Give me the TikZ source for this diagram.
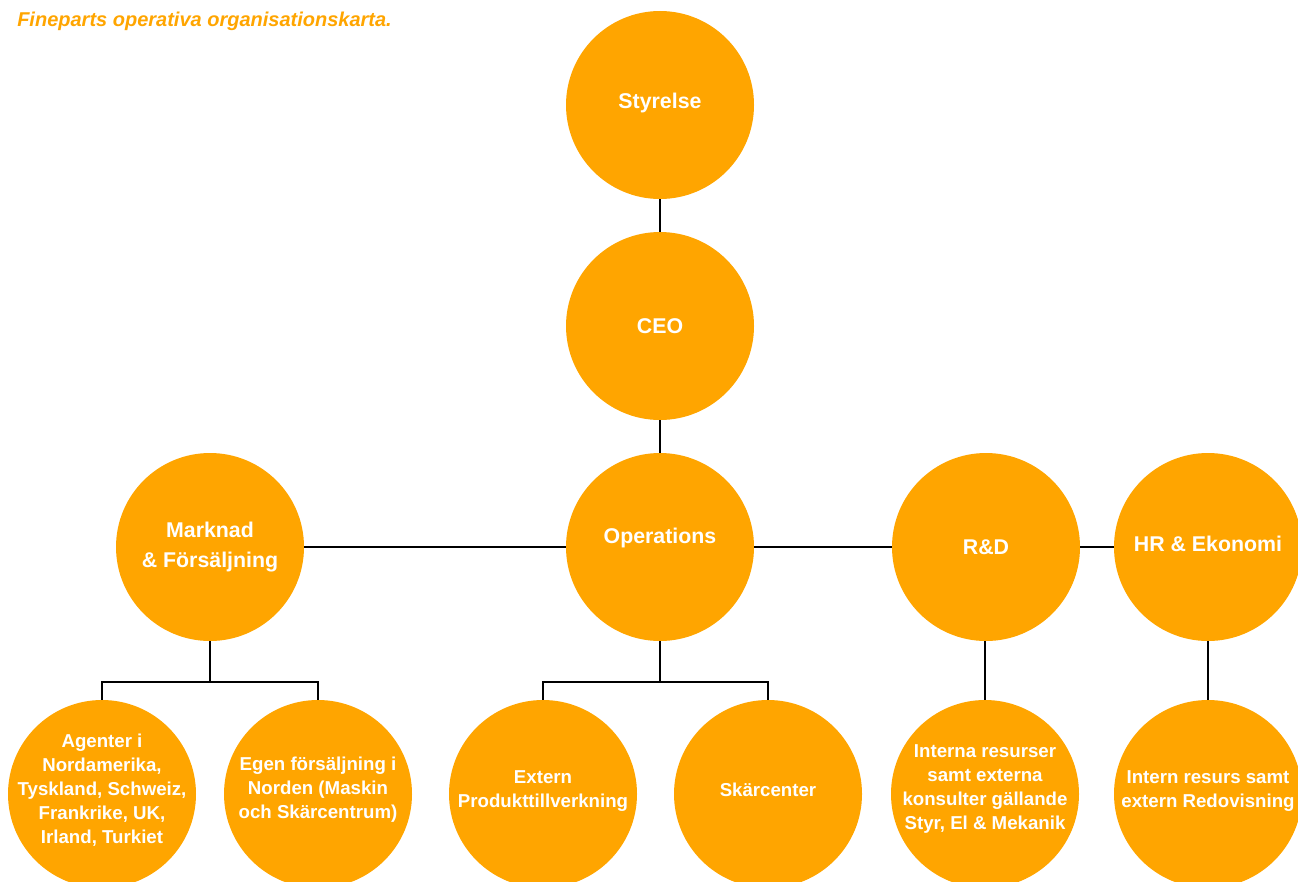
\documentclass[tikz,border=0pt]{standalone}
\usepackage{fontspec}
\setmainfont{Liberation Sans}
\definecolor{orgorange}{HTML}{FFA500}
\begin{document}
\begin{tikzpicture}[x=0.75pt,y=-0.75pt,
  orgc/.style={circle, fill=orgorange, draw=none, minimum size=141pt, inner sep=0pt},
  toplbl/.style={text=white, font=\bfseries\fontsize{16}{23}\selectfont, align=center, inner sep=0pt},
  botlbl/.style={text=white, font=\bfseries\fontsize{14}{18}\selectfont, align=center, inner sep=0pt},
  conn/.style={draw=black, line width=2.2pt}]
\useasboundingbox (0,0) rectangle (1298,881);
\clip (0,0) rectangle (1298,881);
\node[anchor=west, text=orgorange, font=\bfseries\itshape\fontsize{15}{18}\selectfont, inner sep=0pt] (title) at (17,21) {Fineparts operativa organisationskarta.};
% top level circles
\node[orgc, label={[toplbl, yshift=1.5pt]center:Styrelse}] (sty) at (660,105) {};
\node[orgc, label={[toplbl]center:CEO}] (ceo) at (660,326) {};
\node[orgc, label={[toplbl, yshift=6.5pt]center:Operations}] (ops) at (660,547) {};
\node[orgc, label={[toplbl]center:Marknad\\\& Försäljning}] (mark) at (210,547) {};
\node[orgc, label={[toplbl]center:R\&D}] (rd) at (986,547) {};
\node[orgc, label={[toplbl, yshift=2pt]center:HR \& Ekonomi}] (hr) at (1208,547) {};
% bottom circles
\node[orgc, label={[botlbl, yshift=3pt]center:Agenter i\\Nordamerika,\\Tyskland, Schweiz,\\Frankrike, UK,\\Irland, Turkiet}] (agent) at (102,794) {};
\node[orgc, label={[botlbl, yshift=3pt]center:Egen försäljning i\\Norden (Maskin\\och Skärcentrum)}] (egen) at (318,794) {};
\node[orgc, label={[botlbl, yshift=2.5pt]center:Extern\\Produkttillverkning}] (ext) at (543,794) {};
\node[orgc, label={[botlbl, yshift=3pt]center:Skärcenter}] (skar) at (768,794) {};
\node[orgc, label={[botlbl, yshift=4pt]center:Interna resurser\\samt externa\\konsulter gällande\\Styr, El \& Mekanik}] (intr) at (985,794) {};
\node[orgc, label={[botlbl, yshift=2.5pt]center:Intern resurs samt\\extern Redovisning}] (ires) at (1208,794) {};
% connectors
\draw[conn] (sty) -- (ceo);
\draw[conn] (ceo) -- (ops);
\draw[conn] (mark) -- (ops);
\draw[conn] (ops) -- (rd);
\draw[conn] (rd) -- (hr);
\coordinate (mb) at (210,682);
\coordinate (ob) at (660,682);
\draw[conn] (mark.south) -- (mb);
\draw[conn] (agent.north) |- (mb) -| (egen.north);
\draw[conn] (ops.south) -- (ob);
\draw[conn] (ext.north) |- (ob) -| (skar.north);
\draw[conn] (intr.north |- rd.south) -- (intr.north);
\draw[conn] (hr) -- (ires);
\end{tikzpicture}
\end{document}
